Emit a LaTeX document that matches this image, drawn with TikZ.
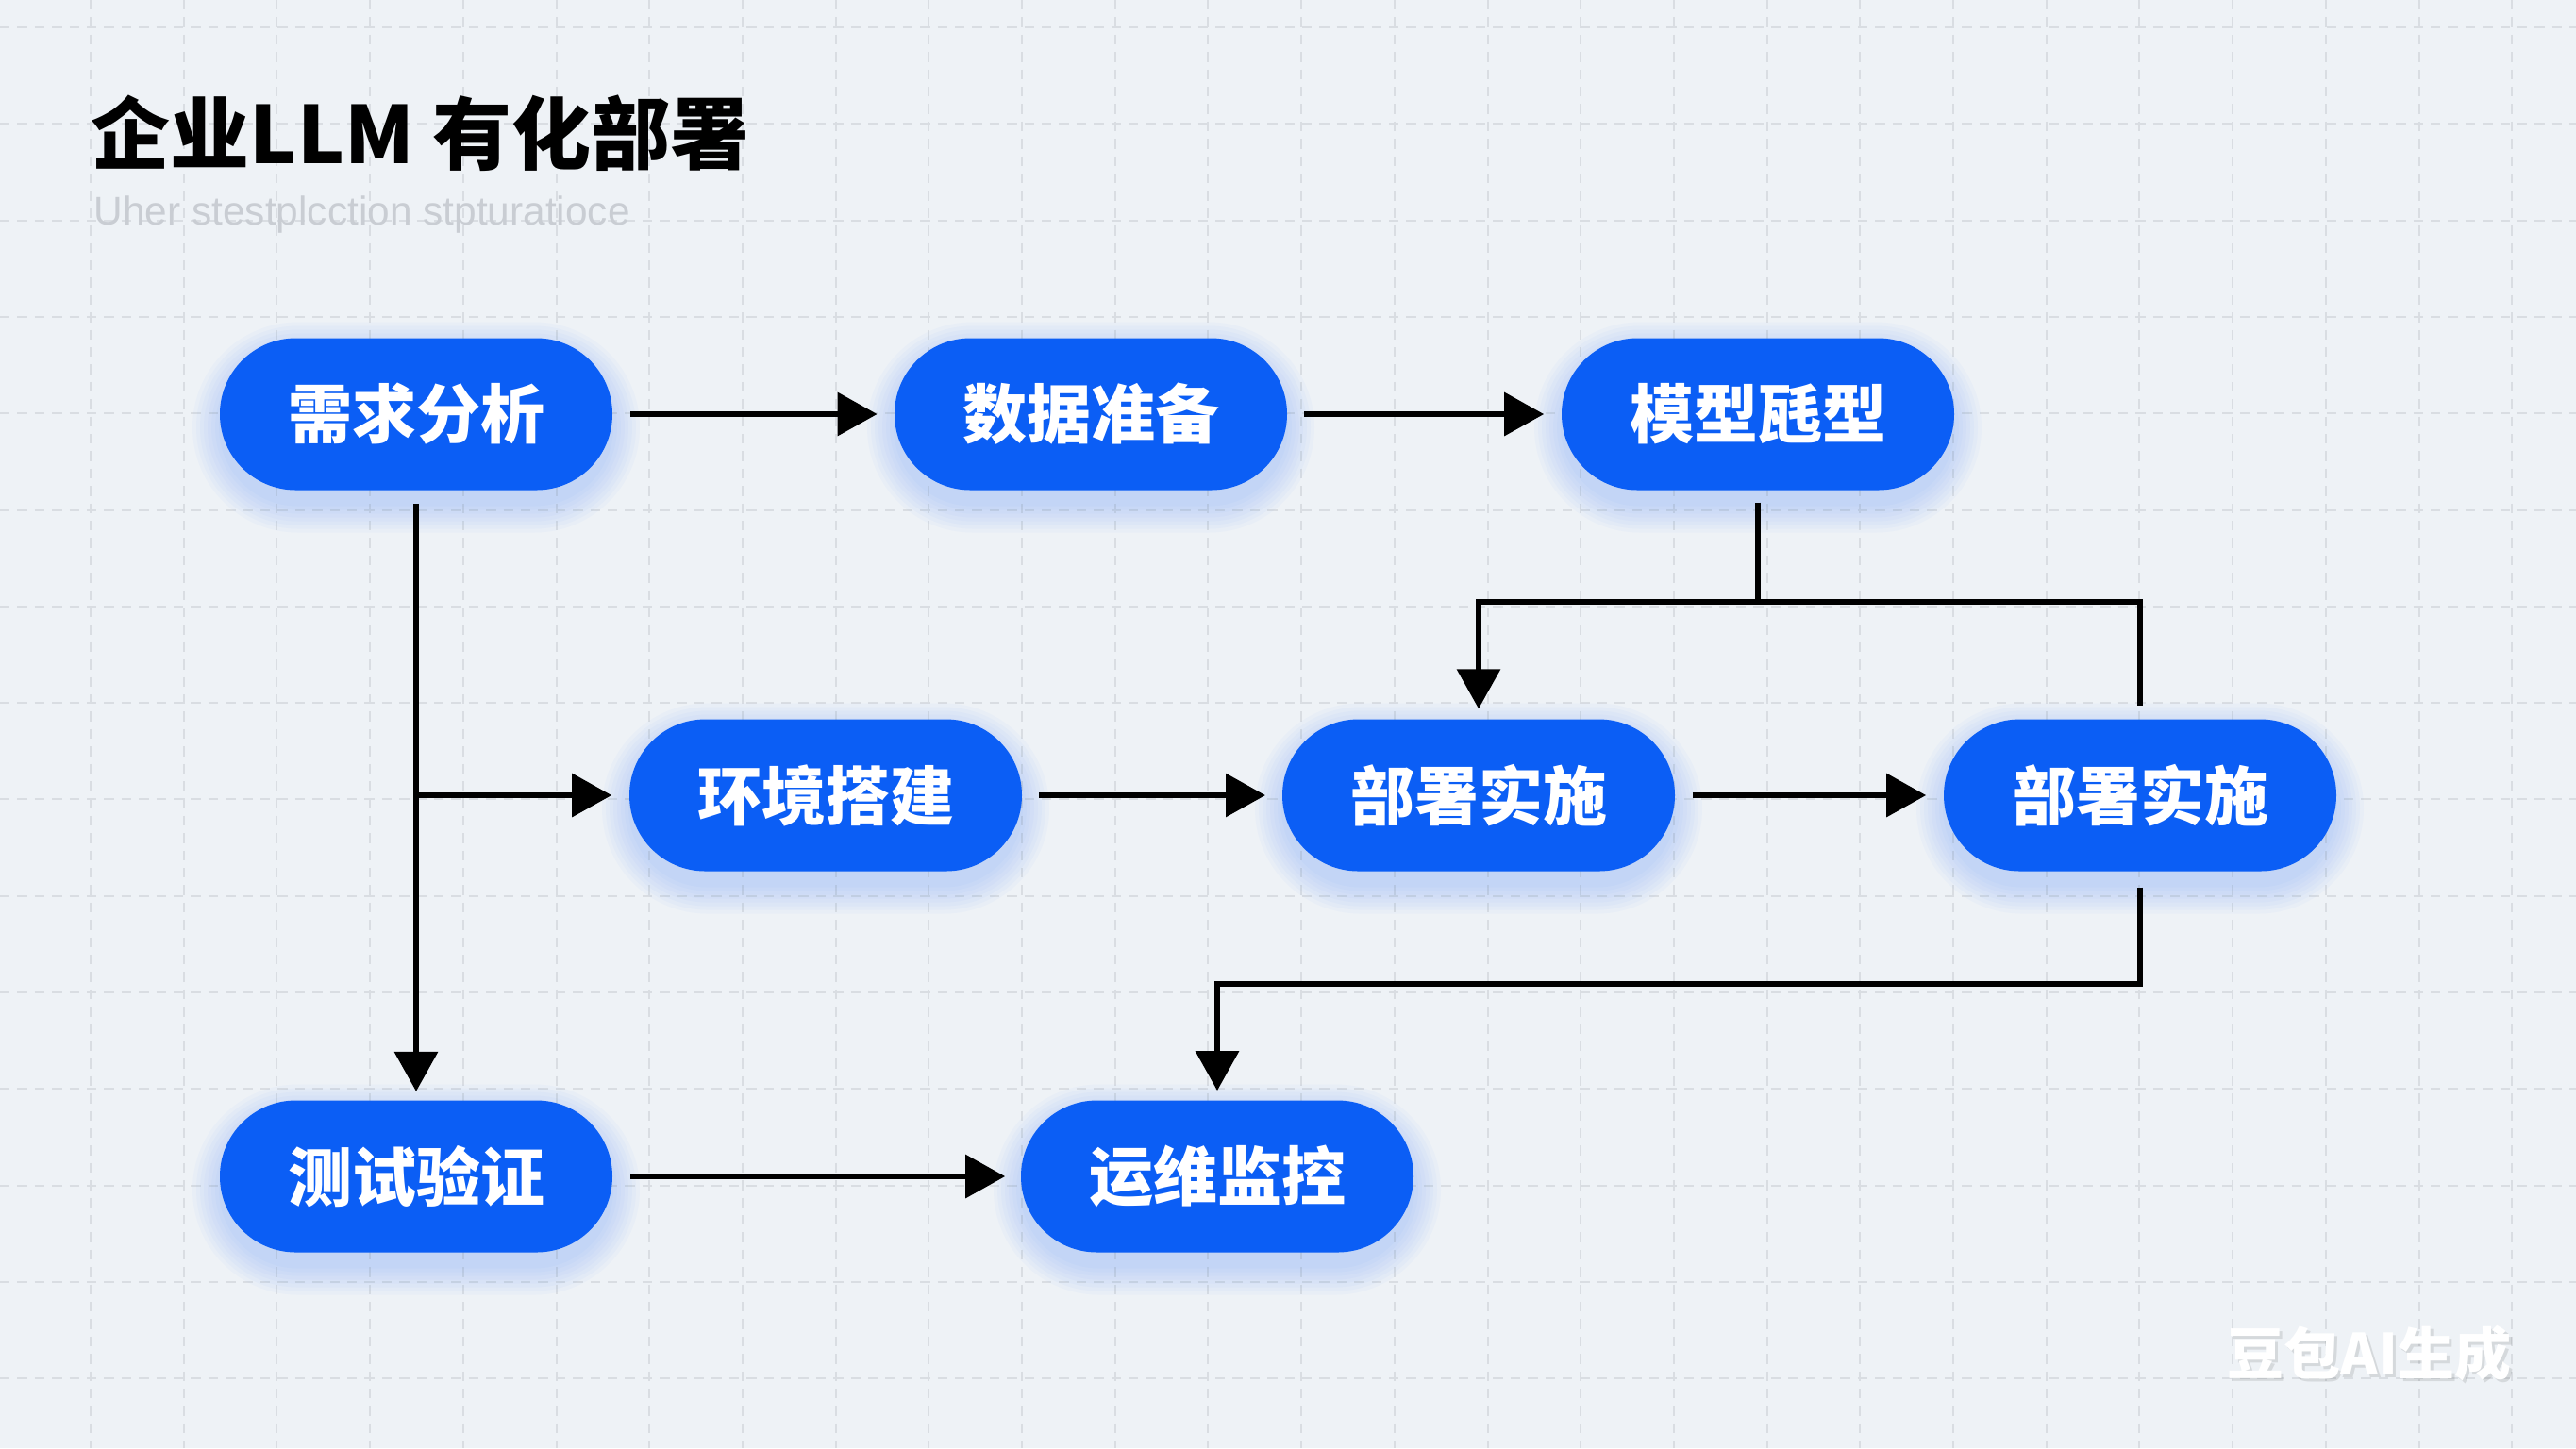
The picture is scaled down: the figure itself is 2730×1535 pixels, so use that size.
\documentclass[tikz,border=0pt]{standalone}
\usepackage{fontspec}
\setmainfont{Liberation Sans}
\newfontfamily\cjk{Noto Sans CJK SC}
\usetikzlibrary{arrows.meta}
\definecolor{bgcol}{HTML}{EEF2F6}
\definecolor{gridcol}{HTML}{D9DDE2}
\definecolor{nodeblue}{HTML}{0B5EF5}
\definecolor{glowblue}{HTML}{5F95F7}
\definecolor{subgray}{HTML}{C9CDD3}
\tikzset{
  gridline/.style={draw=gridcol, line width=0.5pt, dash pattern=on 2.6pt off 2pt},
  pill/.style={fill=nodeblue, text=white, rounded corners=20.125pt, minimum width=104pt,
    minimum height=40.25pt, inner sep=0pt, font=\cjk\bfseries\fontsize{17pt}{17pt}\selectfont},
  conn/.style={draw=black, line width=1.6pt},
  arr/.style={conn, -{Triangle[length=10.5pt, width=11.25pt]}},
}
\newcommand{\pillglow}[2]{%
  \foreach \e in {3,7,...,31}{%
    \pgfmathsetmacro\rr{(80.5+\e)*0.25}%
    \fill[glowblue, opacity=0.04, rounded corners=\rr pt]
      ({#1-206-\e},{#2-80.5-\e+14}) rectangle ({#1+206+\e},{#2+80.5+\e+14});
  }}
\begin{document}
\begin{tikzpicture}[x=0.25pt,y=-0.25pt]
\fill[bgcol] (0,0) rectangle (2730,1535);
\useasboundingbox (0,0) rectangle (2730,1535);
% grid
\foreach \k in {0,...,26} \draw[gridline] ({96+98.7*\k},0) -- ({96+98.7*\k},1535);
\foreach \k in {0,...,14} \draw[gridline] (0,{29+102.3*\k}) -- (2730,{29+102.3*\k});
% title
\node[anchor=base west, inner sep=0pt, font=\cjk\bfseries\fontsize{21pt}{21pt}\selectfont] (title) at (96,173) {企业LLM 有化部署};
\node[anchor=base west, inner sep=0pt, text=subgray, font=\fontsize{10.6pt}{10.6pt}\selectfont] (subtitle) at (99,238) {Uher stestplcction stpturatioce};
% glows
\pillglow{441}{439}
\pillglow{1156}{439}
\pillglow{1863}{439}
\pillglow{875}{843}
\pillglow{1567}{843}
\pillglow{2268}{843}
\pillglow{441}{1247}
\pillglow{1290}{1247}
% nodes
\node[pill] (n1) at (441,439) {需求分析};
\node[pill] (n2) at (1156,439) {数据准备};
\node[pill] (n3) at (1863,439) {模型瓱型};
\node[pill] (n4) at (875,843) {环境搭建};
\node[pill] (n5) at (1567,843) {部署实施};
\node[pill] (n6) at (2268,843) {部署实施};
\node[pill] (n7) at (441,1247) {测试验证};
\node[pill] (n8) at (1290,1247) {运维监控};
% junctions
\coordinate (j1) at (1863,638);
\coordinate (j2) at (2268,1043);
\coordinate (b1) at (n1.south |- n4.west);
% connectors
\draw[arr, shorten <=4.6pt, shorten >=4.4pt] (n1.east) -- (n2.west);
\draw[arr, shorten <=4.3pt, shorten >=4.5pt] (n2.east) -- (n3.west);
\draw[arr, shorten <=3.4pt, shorten >=2.2pt] (n1.south) -- (n7.north);
\draw[arr, shorten >=4.5pt] (b1) -- (n4.west);
\draw[arr, shorten <=4.3pt, shorten >=4.3pt] (n4.east) -- (n5.west);
\draw[arr, shorten <=4.5pt, shorten >=4.5pt] (n5.east) -- (n6.west);
\draw[arr, shorten <=3.1pt, shorten >=2.6pt] (n3.south) -- (j1) -| (n5.north);
\draw[conn, shorten >=3.5pt] (j1) -| (n6.north);
\draw[arr, shorten <=4.1pt, shorten >=2.4pt] (n6.south) -- (j2) -| (n8.north);
\draw[arr, shorten <=4.6pt, shorten >=4pt] (n7.east) -- (n8.west);
% watermark
\node[anchor=base east, inner sep=0pt, text=black, opacity=0.10, font=\cjk\bfseries\fontsize{15pt}{15pt}\selectfont] at (2665,1460) {豆包AI生成};
\node[anchor=base east, inner sep=0pt, text=white, font=\cjk\bfseries\fontsize{15pt}{15pt}\selectfont] (wm) at (2662,1457) {豆包AI生成};
\end{tikzpicture}
\end{document}
